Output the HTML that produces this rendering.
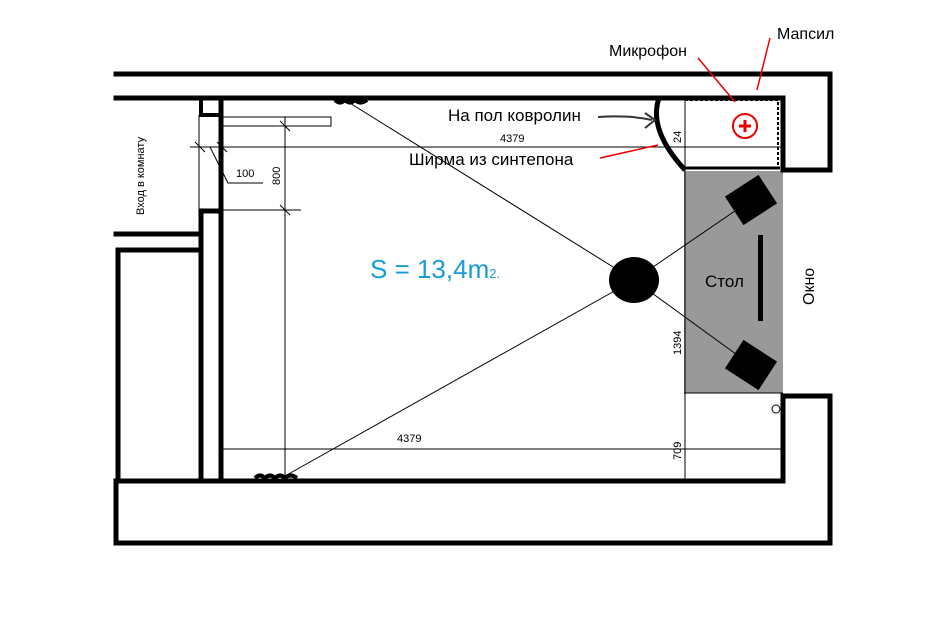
<!DOCTYPE html>
<html><head><meta charset="utf-8"><style>
html,body{margin:0;padding:0;background:#fff}
svg{display:block}
text{font-family:"Liberation Sans",sans-serif}
</style></head><body>
<svg width="932" height="623" viewBox="0 0 932 623" xmlns="http://www.w3.org/2000/svg">
<rect width="932" height="623" fill="#fff"/>
<rect x="684" y="171" width="99" height="222" fill="#999"/>
<g stroke="#000" stroke-width="5" fill="none" stroke-linecap="square">
 <polyline points="116,74 830,74 830,170 784,170"/>
 <polyline points="116,98 783,98 783,170"/>
 <polyline points="784,396 830,396 830,543 116,543 116,481 783,481 783,396"/>
 <rect x="201" y="98" width="20" height="17" stroke-width="4"/>
 <line x1="221" y1="98" x2="221" y2="481"/>
 <polyline points="221,211 201,211 201,481"/>
 <line x1="116" y1="234" x2="201" y2="234"/>
 <polyline points="118,481 118,250 201,250"/>
</g>
<g stroke="#000" stroke-width="1" fill="none">
 <line x1="199" y1="115" x2="199" y2="211"/>
 <rect x="222" y="117" width="109" height="9"/>
 <line x1="285" y1="117" x2="285" y2="478"/>
 <line x1="190" y1="147" x2="783" y2="147"/>
 <line x1="222" y1="210" x2="301" y2="210"/>
 <line x1="280" y1="121" x2="290" y2="131"/>
 <line x1="280" y1="205" x2="290" y2="215"/>
 <line x1="195" y1="142" x2="205" y2="152"/>
 <line x1="217" y1="142" x2="227" y2="152"/>
 <polyline points="210,147 228,183 263,183"/>
 <line x1="222" y1="449" x2="783" y2="449"/>
 <line x1="685" y1="100" x2="685" y2="481"/>
 <line x1="684" y1="393" x2="783" y2="393"/>
 <line x1="783" y1="172" x2="831" y2="172"/>
 <line x1="783" y1="395" x2="831" y2="395"/>
 <line x1="345" y1="100" x2="634" y2="280"/>
 <line x1="285" y1="476" x2="634" y2="280"/>
 <line x1="634" y1="280" x2="751" y2="200"/>
 <line x1="634" y1="280" x2="751" y2="365"/>
 <circle cx="776" cy="409" r="4"/>
</g>
<path d="M686,168 L778,168 L778,100 L686,100" stroke="#000" stroke-width="2" stroke-dasharray="3 2" fill="none"/>
<path d="M684,168 L780,168" stroke="#000" stroke-width="3"/>
<path d="M659,98 Q648,130 685,170" stroke="#000" stroke-width="5" fill="none"/>
<path d="M335,100 q5,5 10,0 q5,5 10,0 q5,5 12,0" stroke="#000" stroke-width="4" fill="none"/>
<path d="M255,478 q5,-5 10,0 q5,-5 10,0 q5,-5 10,0 q5,-5 12,0" stroke="#000" stroke-width="4" fill="none"/>
<path d="M598,117 Q630,115 652,120" stroke="#333" stroke-width="2" fill="none"/>
<path d="M645,113 L655,120 L645,128" stroke="#333" stroke-width="2" fill="none"/>
<ellipse cx="634" cy="280" rx="25" ry="23" fill="#000"/>
<rect x="-20" y="-17" width="40" height="34" fill="#000" transform="translate(751,200) rotate(-33)"/>
<rect x="-20" y="-17" width="40" height="34" fill="#000" transform="translate(751,365) rotate(33)"/>
<rect x="758" y="235" width="5" height="86" fill="#000"/>
<circle cx="745" cy="126" r="12" stroke="#e00" stroke-width="2" fill="#fff"/>
<path d="M739,126 H751 M745,120 V132" stroke="#e00" stroke-width="3"/>
<g stroke="#e00" stroke-width="1.5" fill="#e00">
 <line x1="698" y1="58" x2="735" y2="102"/>
 <line x1="770" y1="38" x2="757" y2="90"/>
 <line x1="600" y1="158" x2="658" y2="145"/>
</g>
<text x="609" y="56" font-size="16">Микрофон</text>
<text x="777" y="39" font-size="16">Мапсил</text>
<text x="448" y="121" font-size="17">На пол ковролин</text>
<text x="409" y="165" font-size="17">Ширма из синтепона</text>
<text x="500" y="142" font-size="11">4379</text>
<text x="397" y="442" font-size="11">4379</text>
<text x="236" y="177" font-size="11">100</text>
<text transform="translate(280,185) rotate(-90)" font-size="11">800</text>
<text transform="translate(681,355) rotate(-90)" font-size="11">1394</text>
<text transform="translate(681,460) rotate(-90)" font-size="11">709</text>
<text transform="translate(681,143) rotate(-90)" font-size="11">24</text>
<text transform="translate(144,215) rotate(-90)" font-size="11">Вход в комнату</text>
<text x="705" y="287" font-size="17">Стол</text>
<text transform="translate(814,305) rotate(-90)" font-size="16">Окно</text>
<text x="370" y="278" font-size="26" fill="#1a9ad6">S = 13,4m<tspan font-size="13">2.</tspan></text>
</svg>
</body></html>
